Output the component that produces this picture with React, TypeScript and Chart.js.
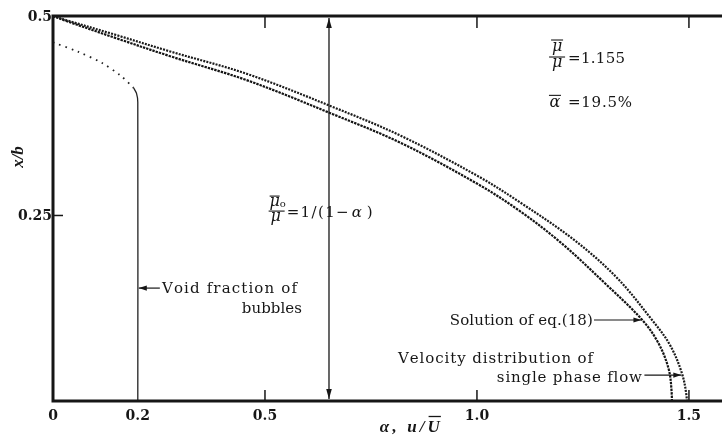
import { useEffect, useRef } from 'react';
import { Chart, registerables } from 'chart.js';

Chart.register(...registerables);

// Velocity distribution of single phase flow: u/Ū (x) against x/b (y)
const singlePhaseU = [0, 0.03, 0.15, 0.28, 0.46, 0.66, 0.82, 1.0, 1.1, 1.23, 1.33, 1.413, 1.455, 1.483, 1.494, 1.496];
const singlePhaseXb = [0.5, 0.495, 0.476, 0.455, 0.427, 0.386, 0.35, 0.3, 0.267, 0.219, 0.172, 0.119, 0.088, 0.053, 0.025, 0];

// Solution of eq.(18)
const solutionU = [0, 0.03, 0.15, 0.28, 0.46, 0.66, 0.82, 1.0, 1.1, 1.2, 1.3, 1.39, 1.428, 1.452, 1.459, 1.46];
const solutionXb = [0.5, 0.494, 0.472, 0.449, 0.419, 0.377, 0.341, 0.29, 0.256, 0.215, 0.166, 0.119, 0.09, 0.058, 0.03, 0];

// Void fraction of bubbles: dotted near the wall, solid in the core
const voidWallAlpha = [0, 0.06, 0.116, 0.16, 0.19];
const voidWallXb = [0.467, 0.455, 0.441, 0.425, 0.41];
const voidCoreAlpha = [0.19, 0.197, 0.2, 0.2];
const voidCoreXb = [0.41, 0.403, 0.392, 0];

// Axis ranges and ticks
const xMin = 0;
const xMax = 1.578;
const yMin = 0.0175;
const yMax = 0.5;
const xTickValues = [0, 0.2, 0.5, 1.0, 1.5];
const xTickLabels = ['0', '0.2', '0.5', '1.0', '1.5'];
const xTickMarks = [0.5, 1.0, 1.5];
const yTickValues = [0.5, 0.25];
const yTickLabels = ['0.5', '0.25'];
const yTickMarks = [0.25];

// Quantities marked on the figure
const muRatio = '1.155';
const meanVoid = '19.5%';
const viscosityLineAlpha = 0.651;

const TITLE_FONT = '"Liberation Serif", "DejaVu Serif", serif';
const TEXT_FONT = '"DejaVu Serif", "Liberation Serif", serif';
const INK = '#161616';

const toPoints = (xs: number[], ys: number[]) => xs.map((v, i) => ({ x: v, y: ys[i] }));

// Draws text with its letters spread to fill a given width; returns each letter's left x.
function spaced(ctx: CanvasRenderingContext2D, text: string, x: number, y: number, width: number, align: 'left' | 'right' = 'left') {
  const chars = [...text];
  const ws = chars.map((c) => ctx.measureText(c).width);
  const total = ws.reduce((s, w) => s + w, 0);
  const gap = chars.length > 1 ? (width - total) / (chars.length - 1) : 0;
  let cx = align === 'right' ? x - width : x;
  const pos: number[] = [];
  ctx.textAlign = 'left';
  chars.forEach((c, i) => {
    pos.push(cx);
    ctx.fillText(c, cx, y);
    cx += ws[i] + gap;
  });
  return { pos, ws };
}

function seg(ctx: CanvasRenderingContext2D, x1: number, y1: number, x2: number, y2: number) {
  ctx.beginPath();
  ctx.moveTo(x1, y1);
  ctx.lineTo(x2, y2);
  ctx.stroke();
}

function arrowHead(ctx: CanvasRenderingContext2D, x1: number, y1: number, x2: number, y2: number, len = 8, half = 2.6) {
  const a = Math.atan2(y2 - y1, x2 - x1);
  ctx.beginPath();
  ctx.moveTo(x2, y2);
  ctx.lineTo(x2 - len * Math.cos(a) + half * Math.sin(a), y2 - len * Math.sin(a) - half * Math.cos(a));
  ctx.lineTo(x2 - len * Math.cos(a) - half * Math.sin(a), y2 - len * Math.sin(a) + half * Math.cos(a));
  ctx.closePath();
  ctx.fill();
}

function arrow(ctx: CanvasRenderingContext2D, x1: number, y1: number, x2: number, y2: number) {
  seg(ctx, x1, y1, x2, y2);
  arrowHead(ctx, x1, y1, x2, y2);
}

const whiteBackground = {
  id: 'whiteBackground',
  beforeDraw(chart: Chart) {
    const { ctx, width, height } = chart;
    ctx.save();
    ctx.fillStyle = '#ffffff';
    ctx.fillRect(0, 0, width, height);
    ctx.restore();
  },
};

const frameAndNotes = {
  id: 'frameAndNotes',
  afterDatasetsDraw(chart: Chart) {
    const { ctx, chartArea: a } = chart;
    const xs = chart.scales.x;
    const ys = chart.scales.y;
    const X = (v: number) => xs.getPixelForValue(v);
    const Y = (v: number) => ys.getPixelForValue(v);

    ctx.save();
    ctx.strokeStyle = INK;
    ctx.fillStyle = INK;
    ctx.lineCap = 'butt';

    // frame: top, left and bottom
    ctx.lineWidth = 3;
    ctx.beginPath();
    ctx.moveTo(a.right, a.top);
    ctx.lineTo(a.left, a.top);
    ctx.lineTo(a.left, a.bottom);
    ctx.lineTo(a.right, a.bottom);
    ctx.stroke();

    // inward tick marks
    ctx.lineWidth = 1.5;
    xTickMarks.forEach((v) => {
      seg(ctx, X(v), a.bottom, X(v), a.bottom - 11);
      seg(ctx, X(v), a.top, X(v), a.top + 12);
    });
    yTickMarks.forEach((v) => seg(ctx, a.left, Y(v), a.left + 10, Y(v)));

    // tick labels
    ctx.font = `bold 14px ${TEXT_FONT}`;
    ctx.textBaseline = 'alphabetic';
    ctx.textAlign = 'center';
    xTickValues.forEach((v, i) => ctx.fillText(xTickLabels[i], X(v), a.bottom + 19));
    ctx.textAlign = 'right';
    yTickValues.forEach((v, i) => ctx.fillText(yTickLabels[i], a.left - 1, Y(v) + 5));

    // axis titles
    ctx.font = `bold italic 17px ${TITLE_FONT}`;
    ctx.save();
    ctx.translate(23, 157);
    ctx.rotate(-Math.PI / 2);
    ctx.textAlign = 'center';
    ctx.fillText('x/b', 0, 0);
    ctx.restore();
    {
      const t = spaced(ctx, 'α, u/U', X(0.771), a.bottom + 31, 60);
      const i = t.pos.length - 1;
      ctx.lineWidth = 1.3;
      seg(ctx, t.pos[i] + 1, a.bottom + 15.5, t.pos[i] + t.ws[i] + 1, a.bottom + 15.5);
    }

    // double arrow for the viscosity ratio
    ctx.lineWidth = 1.3;
    const vx = X(viscosityLineAlpha);
    seg(ctx, vx, a.top + 2, vx, a.bottom - 2);
    arrowHead(ctx, vx, a.top + 20, vx, a.top + 2, 10, 2.8);
    arrowHead(ctx, vx, a.bottom - 20, vx, a.bottom - 2, 10, 2.8);

    // μ̄0/μ = 1/(1−α)
    {
      const cx = X(0.5275);
      const by = Y(0.2555);
      ctx.font = `italic 16px ${TEXT_FONT}`;
      ctx.textAlign = 'center';
      ctx.fillText('μ', cx - 2, by - 5);
      ctx.fillText('μ', cx - 1, by + 10);
      ctx.font = `10px ${TEXT_FONT}`;
      ctx.fillText('o', cx + 6, by - 4);
      ctx.lineWidth = 1.1;
      seg(ctx, cx - 7, by - 15, cx + 3, by - 15);
      seg(ctx, cx - 8, by, cx + 8, by);
      ctx.font = `15px ${TEXT_FONT}`;
      spaced(ctx, '=1/(1−', cx + 10, by + 6, 62);
      ctx.font = `italic 15px ${TEXT_FONT}`;
      ctx.textAlign = 'left';
      ctx.fillText('α', cx + 75, by + 6);
      ctx.font = `15px ${TEXT_FONT}`;
      ctx.fillText(')', cx + 90, by + 6);
    }

    // μ̄/μ = 1.155
    {
      const cx = X(1.189);
      const by = Y(0.4486);
      ctx.font = `italic 16px ${TEXT_FONT}`;
      ctx.textAlign = 'center';
      ctx.fillText('μ', cx, by - 6);
      ctx.fillText('μ', cx, by + 10);
      ctx.lineWidth = 1.1;
      seg(ctx, cx - 6, by - 17, cx + 6, by - 17);
      seg(ctx, cx - 8, by, cx + 8, by);
      ctx.font = `15px ${TEXT_FONT}`;
      spaced(ctx, '=' + muRatio, cx + 11, by + 6, 57);
    }

    // ᾱ = 19.5%
    {
      const cx = X(1.184);
      const base = Y(0.3855);
      ctx.font = `italic 16px ${TEXT_FONT}`;
      ctx.textAlign = 'center';
      ctx.fillText('α', cx, base);
      ctx.lineWidth = 1.1;
      seg(ctx, cx - 6, base - 12, cx + 6, base - 12);
      ctx.font = `15px ${TEXT_FONT}`;
      spaced(ctx, '=' + meanVoid, cx + 13, base, 64);
    }

    ctx.lineWidth = 1.2;
    ctx.font = `15px ${TEXT_FONT}`;

    // Void fraction of bubbles
    arrow(ctx, X(0.252), Y(0.159), X(0.2) + 1, Y(0.159));
    spaced(ctx, 'Void fraction of', X(0.257), Y(0.153), 135);
    spaced(ctx, 'bubbles', X(0.587), Y(0.128), 60, 'right');

    // Solution of eq.(18)
    spaced(ctx, 'Solution of eq.(18)', X(0.936), Y(0.113), 143);
    arrow(ctx, X(1.276), Y(0.119), X(1.388), Y(0.119));

    // Velocity distribution of single phase flow
    spaced(ctx, 'Velocity distribution of', X(0.814), Y(0.065), 195);
    spaced(ctx, 'single phase flow', X(1.389), Y(0.041), 145, 'right');
    arrow(ctx, X(1.395), Y(0.05), X(1.482), Y(0.05));

    ctx.restore();
  },
};

export default function App() {
  const canvasRef = useRef<HTMLCanvasElement | null>(null);

  useEffect(() => {
    const canvas = canvasRef.current;
    if (!canvas) return;
    const chart = new Chart(canvas, {
      type: 'scatter',
      data: {
        datasets: [
          {
            label: 'Velocity distribution of single phase flow',
            data: toPoints(singlePhaseU, singlePhaseXb),
            showLine: true,
            borderColor: '#1c1c1c',
            borderWidth: 2.2,
            borderDash: [2, 1.2],
            pointRadius: 0,
            tension: 0.35,
          },
          {
            label: 'Solution of eq.(18)',
            data: toPoints(solutionU, solutionXb),
            showLine: true,
            borderColor: '#141414',
            borderWidth: 2.2,
            borderDash: [2.4, 1],
            pointRadius: 0,
            tension: 0.35,
          },
          {
            label: 'Void fraction of bubbles',
            data: toPoints(voidWallAlpha, voidWallXb),
            showLine: true,
            borderColor: '#222222',
            borderWidth: 1.8,
            borderDash: [1.6, 5],
            pointRadius: 0,
            tension: 0.3,
          },
          {
            label: 'Void fraction of bubbles (core)',
            data: toPoints(voidCoreAlpha, voidCoreXb),
            showLine: true,
            borderColor: '#222222',
            borderWidth: 1.3,
            pointRadius: 0,
            tension: 0.25,
          },
        ],
      },
      options: {
        animation: false,
        responsive: false,
        maintainAspectRatio: false,
        layout: { padding: { left: 53, top: 16, right: 0, bottom: 43 } },
        plugins: { legend: { display: false }, tooltip: { enabled: false } },
        scales: {
          x: { type: 'linear', min: xMin, max: xMax, display: false },
          y: { type: 'linear', min: yMin, max: yMax, display: false },
        },
      },
      plugins: [whiteBackground, frameAndNotes],
    });
    return () => chart.destroy();
  }, []);

  return (
    <div style={{ position: 'absolute', left: 0, top: 0, width: 722, height: 444, background: '#fff' }}>
      <canvas ref={canvasRef} width={722} height={444} style={{ display: 'block' }} />
    </div>
  );
}
